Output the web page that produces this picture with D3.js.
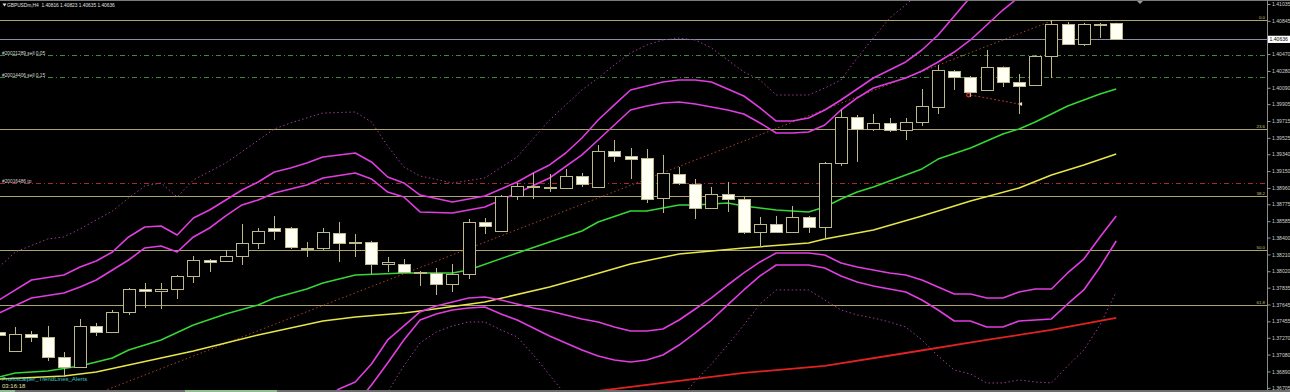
<!DOCTYPE html>
<html><head><meta charset="utf-8">
<script src="https://cdn.jsdelivr.net/npm/d3@7"></script>
<style>html,body{margin:0;padding:0;background:#000;}svg{display:block;}</style>
</head><body>
<svg id="c" width="1290" height="392"></svg>
<script>
// ---------- DATA ----------
const symbolTitle = "GBPUSDm,H4";
const headerOHLC = ["1.40816","1.40823","1.40635","1.40636"];
const barIndex = d3.range(-1, 69); // H4 bars, oldest (partly hidden) to current

const openP = [1.37335,1.37121,1.37312,1.37279,1.37053,1.36940,1.37403,1.37335,1.37561,1.37820,
1.37798,1.37820,1.37967,1.38147,1.38136,1.38192,1.38339,1.38508,1.38508,1.38283,
1.38283,1.38452,1.38350,1.38350,1.38102,1.38102,1.38012,1.38001,1.37876,1.37989,
1.38576,1.38474,1.38869,1.38982,1.38959,1.38959,1.39095,1.38971,1.39377,1.39320,
1.39298,1.38847,1.39117,1.39004,1.38734,1.38892,1.38835,1.38463,1.38553,1.38463,
1.38632,1.38519,1.39241,1.39760,1.39625,1.39693,1.39614,1.39704,1.39873,1.40279,
1.40211,1.40065,1.40324,1.40155,1.40121,1.40448,1.40809,1.40584,1.40809,1.40816];
const highP = [1.37358,1.37391,1.37346,1.37403,1.37109,1.37482,1.37437,1.37583,1.37831,1.37888,
1.37888,1.37978,1.38192,1.38158,1.38260,1.38553,1.38508,1.38644,1.38519,1.38350,
1.38508,1.38576,1.38440,1.38362,1.38181,1.38158,1.38023,1.38057,1.38102,1.38610,
1.38621,1.38880,1.39016,1.39129,1.39117,1.39174,1.39129,1.39444,1.39501,1.39411,
1.39399,1.39332,1.39196,1.39061,1.38971,1.39027,1.38858,1.38632,1.38644,1.38756,
1.38644,1.39253,1.39839,1.39783,1.39794,1.39749,1.39749,1.40076,1.40347,1.40290,
1.40223,1.40516,1.40330,1.40245,1.40454,1.40855,1.40832,1.40821,1.40821,1.40823];
const lowP = [1.37279,1.37109,1.37222,1.37008,1.36827,1.36929,1.37290,1.37324,1.37527,1.37606,
1.37594,1.37707,1.37888,1.38012,1.38125,1.38091,1.38271,1.38373,1.38271,1.38181,
1.38260,1.38125,1.38181,1.37989,1.38012,1.38006,1.37854,1.37752,1.37786,1.37933,
1.38440,1.38463,1.38824,1.38835,1.38914,1.38948,1.38971,1.38959,1.39253,1.39061,
1.38790,1.38677,1.38993,1.38610,1.38728,1.38689,1.38440,1.38294,1.38457,1.38452,
1.38452,1.38384,1.39208,1.39253,1.39602,1.39591,1.39501,1.39659,1.39794,1.40065,
1.39986,1.40054,1.40099,1.39794,1.40110,1.40200,1.40572,1.40561,1.40651,1.40635];
const closeP = [1.37301,1.37312,1.37279,1.37053,1.36940,1.37403,1.37335,1.37561,1.37820,1.37798,
1.37820,1.37967,1.38147,1.38130,1.38192,1.38339,1.38474,1.38474,1.38294,1.38277,
1.38463,1.38339,1.38347,1.38102,1.38125,1.38012,1.37995,1.37876,1.37989,1.38576,
1.38531,1.38869,1.38982,1.38971,1.38971,1.39095,1.39004,1.39377,1.39320,1.39286,
1.38835,1.39129,1.39016,1.38734,1.38892,1.38835,1.38463,1.38553,1.38463,1.38632,
1.38519,1.39241,1.39760,1.39625,1.39693,1.39614,1.39704,1.39884,1.40290,1.40211,
1.40042,1.40324,1.40155,1.40110,1.40448,1.40809,1.40584,1.40809,1.40805,1.40636];

// indicator lines: [bar, price]
const maGreen = [[-1,1.36827],[0,1.36873],[2,1.36895],[4,1.36952],[6,1.37042],[7,1.37132],[9,1.37245],[11,1.37414],[13,1.37538],[15,1.37640],[16,1.37719],[18,1.37820],[19,1.37888],[21,1.37978],[24,1.38001],[27,1.38001],[28,1.38034],[31,1.38226],[35,1.38474],[36,1.38576],[38,1.38700],[39,1.38700],[41,1.38768],[42,1.38768],[44,1.38790],[45,1.38756],[47,1.38711],[49,1.38689],[50,1.38745],[51,1.38835],[52,1.38914],[53,1.38971],[56,1.39174],[57,1.39286],[59,1.39411],[61,1.39568],[62,1.39625],[63,1.39704],[64,1.39794],[65,1.39884],[66,1.39952],[67,1.40020],[68,1.40076]];
const maYellow = [[-1,1.36805],[3,1.36839],[5,1.36884],[7,1.36963],[9,1.37042],[11,1.37121],[13,1.37211],[15,1.37301],[17,1.37380],[19,1.37459],[21,1.37504],[24,1.37549],[25,1.37572],[29,1.37673],[33,1.37843],[35,1.37944],[38,1.38102],[41,1.38215],[45,1.38283],[49,1.38339],[50,1.38384],[51,1.38418],[53,1.38486],[56,1.38644],[59,1.38813],[62,1.38959],[64,1.39106],[66,1.39219],[68,1.39343]];
const maRed = [[35,1.36590],[36,1.36670],[40,1.36760],[45,1.36873],[50,1.36952],[55,1.37098],[60,1.37245],[64,1.37358],[68,1.37493]];

const bandUpperOuter = [[-1,1.37696],[1,1.37922],[3,1.37978],[4,1.38068],[5,1.38136],[6,1.38237],[7,1.38407],[8,1.38519],[9,1.38531],[10,1.38429],[11,1.38621],[12,1.38711],[13,1.38824],[14,1.38937],[15,1.39027],[16,1.39140],[17,1.39185],[18,1.39241],[19,1.39309],[21,1.39354],[22,1.39253],[23,1.39083],[24,1.39016],[25,1.38880],[27,1.38801],[29,1.38869],[31,1.39027],[32,1.39129],[33,1.39219],[34,1.39354],[35,1.39523],[36,1.39726],[37,1.39896],[38,1.40065],[39,1.40110],[40,1.40155],[41,1.40178],[42,1.40178],[43,1.40155],[44,1.40076],[45,1.39997],[46,1.39862],[47,1.39715],[48,1.39715],[49,1.39749],[50,1.39839],[51,1.39952],[52,1.40076],[53,1.40200],[54,1.40290],[55,1.40381],[56,1.40516],[57,1.40685],[58,1.40900],[59,1.41114]];
const bandUpperInner = [[-1,1.37549],[1,1.37719],[3,1.37775],[4,1.37843],[5,1.37922],[7,1.38147],[8,1.38283],[9,1.38305],[10,1.38237],[11,1.38407],[12,1.38508],[13,1.38644],[14,1.38768],[15,1.38824],[16,1.38903],[17,1.38948],[18,1.38993],[19,1.39072],[21,1.39129],[22,1.39061],[23,1.38914],[24,1.38858],[25,1.38689],[27,1.38677],[29,1.38745],[31,1.38903],[33,1.39072],[35,1.39332],[36,1.39501],[37,1.39670],[38,1.39839],[39,1.39884],[40,1.39918],[41,1.39929],[42,1.39907],[43,1.39873],[44,1.39839],[45,1.39794],[46,1.39693],[47,1.39580],[48,1.39580],[49,1.39591],[50,1.39670],[51,1.39839],[52,1.39975],[53,1.40087],[54,1.40144],[55,1.40200],[56,1.40279],[57,1.40381],[58,1.40493],[59,1.40629],[60,1.40798],[61,1.40967],[62,1.41114]];
const bandLowerInner = [[19,1.36568],[20,1.36692],[21,1.36771],[22,1.36974],[23,1.37245],[24,1.37403],[25,1.37561],[26,1.37628],[27,1.37673],[28,1.37719],[29,1.37730],[30,1.37696],[31,1.37651],[32,1.37606],[33,1.37572],[34,1.37527],[35,1.37482],[36,1.37448],[37,1.37391],[38,1.37346],[39,1.37346],[40,1.37369],[41,1.37470],[42,1.37594],[43,1.37719],[44,1.37865],[45,1.38001],[46,1.38125],[47,1.38226],[48,1.38226],[49,1.38226],[50,1.38204],[51,1.38113],[52,1.38068],[53,1.38034],[54,1.38001],[55,1.37978],[56,1.37922],[57,1.37843],[58,1.37764],[59,1.37764],[60,1.37719],[61,1.37719],[62,1.37786],[63,1.37820],[64,1.37820],[65,1.38001],[66,1.38158],[67,1.38407],[68,1.38644]];
const bandLowerOuter = [[21,1.36512],[22,1.36737],[23,1.36985],[24,1.37245],[25,1.37470],[26,1.37538],[27,1.37583],[28,1.37606],[29,1.37617],[30,1.37538],[31,1.37470],[32,1.37380],[33,1.37290],[34,1.37211],[35,1.37132],[36,1.37064],[37,1.37019],[38,1.36997],[39,1.37019],[40,1.37076],[41,1.37188],[42,1.37324],[43,1.37470],[44,1.37640],[45,1.37809],[46,1.37967],[47,1.38091],[48,1.38091],[49,1.38091],[50,1.38057],[51,1.37967],[52,1.37899],[53,1.37854],[54,1.37820],[55,1.37786],[56,1.37696],[57,1.37583],[58,1.37459],[59,1.37459],[60,1.37391],[61,1.37391],[62,1.37459],[63,1.37470],[64,1.37482],[65,1.37651],[66,1.37809],[67,1.38068],[68,1.38361]];
const bandUpperDotted = [[-1,1.38068],[0,1.38237],[2,1.38384],[3,1.38407],[4,1.38497],[6,1.38700],[7,1.38847],[8,1.38982],[9,1.39016],[10,1.38858],[11,1.39050],[13,1.39241],[16,1.39625],[17,1.39693],[19,1.39805],[21,1.39817],[22,1.39704],[23,1.39433],[24,1.39196],[25,1.39095],[27,1.39016],[29,1.39072],[31,1.39309],[33,1.39726],[35,1.40065],[36,1.40200],[37,1.40347],[38,1.40482],[39,1.40572],[40,1.40629],[41,1.40651],[42,1.40629],[43,1.40539],[44,1.40403],[45,1.40268],[46,1.40178],[47,1.40008],[48,1.40008],[49,1.40008],[50,1.40087],[51,1.40178],[52,1.40426],[53,1.40651],[54,1.40877],[55,1.41024],[56,1.41193]];
const bandLowerDotted = [[22,1.36263],[23,1.36658],[24,1.36952],[25,1.37211],[26,1.37335],[27,1.37403],[28,1.37448],[29,1.37448],[30,1.37358],[31,1.37279],[32,1.37076],[33,1.36850],[34,1.36624],[35,1.36455],[37,1.36286],[39,1.36286],[41,1.36568],[42,1.36782],[43,1.36974],[44,1.37188],[45,1.37414],[46,1.37651],[47,1.37809],[48,1.37809],[49,1.37809],[50,1.37696],[51,1.37583],[52,1.37527],[53,1.37493],[54,1.37448],[55,1.37391],[56,1.37245],[57,1.37064],[58,1.36906],[59,1.36861],[60,1.36760],[61,1.36760],[62,1.36794],[63,1.36771],[64,1.36760],[65,1.36952],[66,1.37132],[67,1.37414],[68,1.37786]];
const trendLine = [[5,1.36636],[64,1.40843]];
const closedTrade = [[59,1.40008],[62,1.39907]];

const fibHigh = 1.40855, fibLow = 1.35654;
const fibLevels = [0, 23.6, 38.2, 50.0, 61.8];
const fibLabels = ["0.0", "23.6", "38.2", "50.0", "61.8"];

const orderLabels = ["#20021289 sell 0.05", "#20014406 sell 0.15", "#20016486 tp"];
const orderPrices = [1.40460, 1.40208, 1.39021];
const orderKinds = ["sell", "sell", "tp"];

const currentPrice = 1.40636;
const tickVals = [1.41035,1.40845,1.40470,1.40280,1.40090,1.39905,1.39715,1.39525,1.39340,1.39150,1.38960,1.38775,1.38585,1.38400,1.38210,1.38020,1.37835,1.37645,1.37455,1.37270,1.37080,1.36890,1.36705];
const indicatorName = "Profitscalper_TrendLines_Alerts";
const clockText = "03:16:18";

// ---------- DRAW ----------
const W = 1290, H = 392, plotR = 1267, plotB = 390;
const svg = d3.select("#c");
const xs = d3.scaleLinear().domain([0, 68]).range([15.3, 1116.2]);
const ys = d3.scaleLinear().domain([1.4108, 1.36658]).range([0, 392]);
const font = "'Liberation Sans', Arial, sans-serif";

svg.append("rect").attr("width", W).attr("height", H).attr("fill", "#000");
svg.append("defs").append("clipPath").attr("id", "clip")
  .append("rect").attr("x", 0).attr("y", 0).attr("width", plotR).attr("height", plotB);
const g = svg.append("g").attr("clip-path", "url(#clip)");

const hline = (price, color, dash, w) => g.append("line")
  .attr("x1", 0).attr("x2", plotR)
  .attr("y1", Math.round(ys(price)) + 0.5).attr("y2", Math.round(ys(price)) + 0.5)
  .attr("stroke", color).attr("stroke-width", w || 1).attr("stroke-dasharray", dash || null);

// fibonacci
const fibColor = "#a9a56c";
fibLevels.forEach((lv, k) => {
  const p = fibHigh - lv / 100 * (fibHigh - fibLow);
  hline(p, fibColor);
  svg.append("text").attr("x", 1265).attr("y", Math.round(ys(p)) - 1)
    .attr("text-anchor", "end").attr("fill", "#c9c27a")
    .style("font-family", font).style("font-size", "4.4px").text(fibLabels[k]);
});
// current price line
hline(currentPrice, "#8e8eaa");
// order lines
orderPrices.forEach((p, k) => {
  const col = orderKinds[k] === "tp" ? "#a82a2a" : "#3d8a3d";
  hline(p, col, "5,3,1,3");
  svg.append("text").attr("x", 2).attr("y", Math.round(ys(p)) - 0.5)
    .attr("fill", "#d6d6d6").style("font-family", font).style("font-size", "4.8px")
    .text(orderLabels[k]);
});

const line = d3.line().x(d => xs(d[0])).y(d => ys(d[1]));
const drawLine = (data, color, w, dash) => g.append("path").datum(data)
  .attr("d", line).attr("fill", "none").attr("stroke", color)
  .attr("stroke-width", w).attr("stroke-dasharray", dash || null)
  .attr("stroke-linejoin", "round");

drawLine(bandUpperDotted, "#9a3c98", 1, "1.5,2.5");
drawLine(bandLowerDotted, "#9a3c98", 1, "1.5,2.5");
drawLine(trendLine, "#a8442a", 1, "1.5,2.5");
drawLine(closedTrade, "#b03030", 1, "2,2");
drawLine(maRed, "#e22222", 1.8);
drawLine(maYellow, "#e6e64a", 1.5);
drawLine(maGreen, "#35d835", 1.5);
[bandUpperOuter, bandUpperInner, bandLowerInner, bandLowerOuter]
  .forEach(b => drawLine(b, "#e03ee0", 1.6));

// trade markers
g.append("circle").attr("cx", xs(closedTrade[0][0]) - 2).attr("cy", ys(closedTrade[0][1]))
  .attr("r", 1.8).attr("fill", "none").attr("stroke", "#e03030").attr("stroke-width", 1.2);
g.append("path").attr("transform", `translate(${xs(closedTrade[1][0]) + 1},${ys(closedTrade[1][1])})`)
  .attr("d", "M-2,0L2,-2L2,2Z").attr("fill", "#e8e0c0");

// candles
const edge = "#bdb98a";
const candles = barIndex.map((b, k) => ({ i: b, o: openP[k], h: highP[k], l: lowP[k], c: closeP[k] }));
g.selectAll("line.wick").data(candles).join("line").attr("class", "wick")
  .attr("x1", d => Math.round(xs(d.i)) + 0.5).attr("x2", d => Math.round(xs(d.i)) + 0.5)
  .attr("y1", d => ys(d.h)).attr("y2", d => ys(d.l))
  .attr("stroke", edge).attr("stroke-width", 1);
g.selectAll("rect.body").data(candles).join("rect").attr("class", "body")
  .attr("x", d => Math.round(xs(d.i)) - 5.5).attr("width", 12)
  .attr("y", d => Math.round(ys(Math.max(d.o, d.c))) + 0.5)
  .attr("height", d => Math.max(1, Math.round(ys(Math.min(d.o, d.c))) - Math.round(ys(Math.max(d.o, d.c)))))
  .attr("fill", d => d.c > d.o ? "#000" : (Math.abs(d.c - d.o) < 0.00008 ? edge : "#fffff4"))
  .attr("stroke", edge).attr("stroke-width", 1);

// frame
svg.append("line").attr("x1", 0).attr("x2", W).attr("y1", 0.5).attr("y2", 0.5).attr("stroke", "#7a7a7a");
svg.append("line").attr("x1", plotR + 0.5).attr("x2", plotR + 0.5).attr("y1", 0).attr("y2", plotB).attr("stroke", "#8a8a8a");
svg.append("rect").attr("x", 0).attr("y", plotB).attr("width", W).attr("height", 2).attr("fill", "#6e6e6e");
svg.append("rect").attr("x", 0).attr("y", plotB).attr("width", 15).attr("height", 2).attr("fill", "#8fbf8f");
svg.append("rect").attr("x", 185).attr("y", plotB).attr("width", 92).attr("height", 2).attr("fill", "#8fbf8f");

// right price axis
const axis = d3.axisRight(ys).tickValues(tickVals).tickFormat(d3.format(".5f")).tickSize(3).tickPadding(1.5);
const ax = svg.append("g").attr("transform", `translate(${plotR + 0.5},0)`).call(axis);
ax.select(".domain").remove();
ax.selectAll(".tick line").attr("stroke", "#9a9a9a");
ax.selectAll(".tick text").attr("fill", "#cfcfcf").style("font-family", font).style("font-size", "5.1px");

// current price tag
const cy = ys(currentPrice);
svg.append("rect").attr("x", plotR + 1).attr("y", cy - 3.6).attr("width", 22).attr("height", 7.2).attr("fill", "#ffffff");
svg.append("text").attr("x", plotR + 2.5).attr("y", cy).attr("dy", "0.34em")
  .attr("fill", "#000").style("font-family", font).style("font-size", "5.1px")
  .text(d3.format(".5f")(currentPrice));

// shift marker
svg.append("path").attr("d", "M1137,1L1143,1L1140,4Z").attr("fill", "#9a9a9a");

// header
svg.append("path").attr("d", "M2.5,3.5L6.5,3.5L4.5,6.5Z").attr("fill", "#e0e0e0");
svg.append("text").attr("x", 7).attr("y", 6.8).attr("fill", "#e0e0e0")
  .style("font-family", font).style("font-size", "4.8px").attr("xml:space", "preserve")
  .text(symbolTitle + "  " + headerOHLC.join(" "));

// bottom-left indicator name and clock
svg.append("text").attr("x", 2).attr("y", 380.5).attr("fill", "#3cc6cc")
  .style("font-family", font).style("font-size", "6px").text(indicatorName);
svg.append("text").attr("x", 2).attr("y", 387.5).attr("fill", "#e4e0a8")
  .style("font-family", font).style("font-size", "6px").text(clockText);
</script>
</body></html>
